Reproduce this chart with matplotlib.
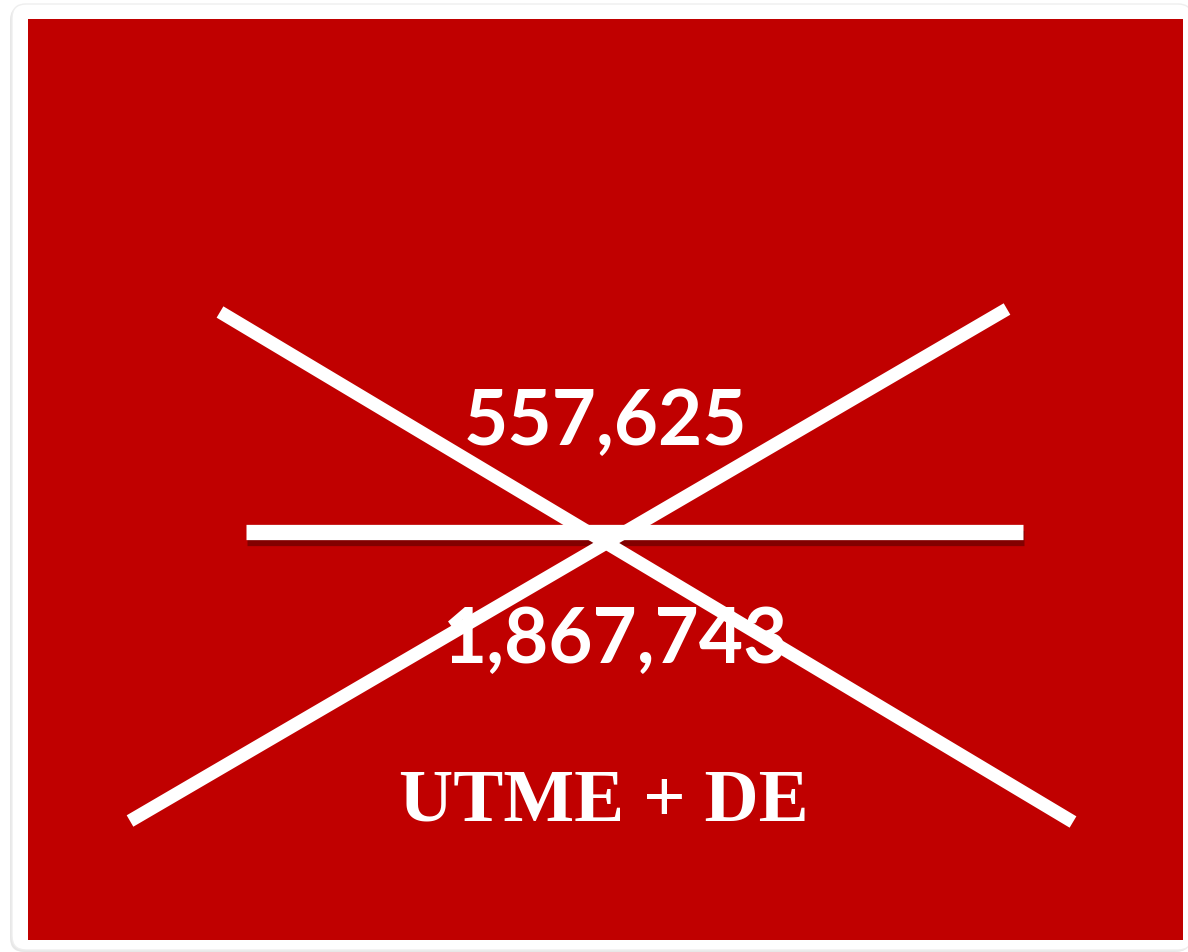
import matplotlib.pyplot as plt
import matplotlib.patheffects as pe
from matplotlib.patches import FancyBboxPatch, Rectangle

# numbers shown on the slide
top_value = "557,625"
bottom_value = "1,867,743"
caption = "UTME + DE"

# the three white strokes (x pairs, y pairs) in pixel space
cross_a = ([220, 1073], [313, 823])
cross_b = ([130, 1007], [822, 310])
bar = ([246, 1023], [533, 533])

fig = plt.figure(figsize=(11.88, 9.53), dpi=100)
ax = fig.add_axes([0, 0, 1, 1])
ax.set_xlim(0, 1188)
ax.set_ylim(953, 0)
ax.axis('off')

# white card with a soft shadow
shadow = FancyBboxPatch((10, 7), 1180, 946, boxstyle="round,pad=0,rounding_size=14",
                        fc='#d8d8d8', ec='none', alpha=0.6)
ax.add_patch(shadow)
card = FancyBboxPatch((12, 5), 1180, 946, boxstyle="round,pad=0,rounding_size=14",
                      fc='white', ec='#eeeeee', lw=1)
ax.add_patch(card)

# red panel
ax.add_patch(Rectangle((28, 20), 1155, 921, fc='#c00000', ec='none'))

ax.plot(*bar, color='white', lw=11, solid_capstyle='butt',
        path_effects=[pe.SimpleLineShadow(offset=(1, -4), shadow_color='#5a0000', alpha=0.6),
                      pe.Normal()])
ax.plot(*cross_a, color='white', lw=9.5, solid_capstyle='butt')
ax.plot(*cross_b, color='white', lw=9.5, solid_capstyle='butt')

ax.text(605, 423, top_value, color='white', fontsize=55, fontweight='bold',
        family='Lato', ha='center', va='center')
ax.text(616, 641, bottom_value, color='white', fontsize=55, fontweight='bold',
        family='Lato', ha='center', va='center')
ax.text(604, 803, caption, color='white', fontsize=54, fontweight='bold',
        family='Liberation Serif', ha='center', va='center')

plt.savefig('out.png', dpi=100)
